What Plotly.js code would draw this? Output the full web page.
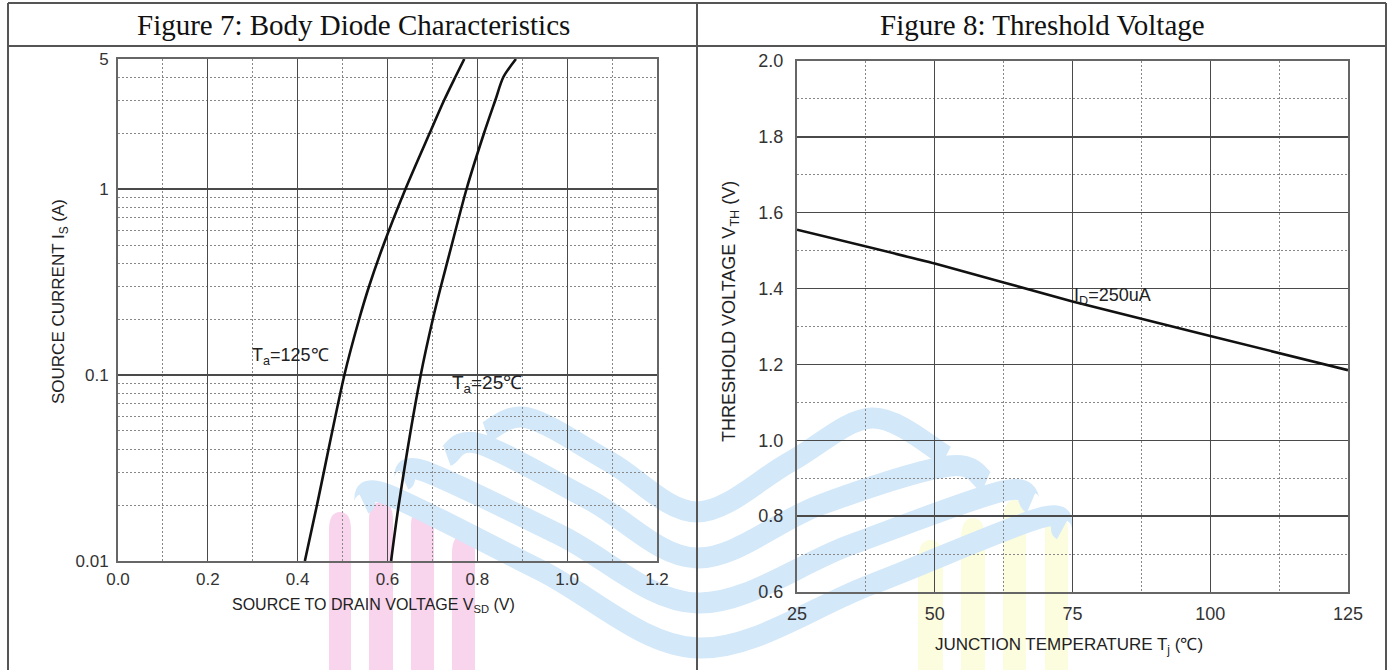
<!DOCTYPE html>
<html>
<head>
<meta charset="utf-8">
<script src="https://cdn.plot.ly/plotly-3.0.1.min.js"></script>
<style>html,body{margin:0;padding:0;background:#fff;}#chart{width:1391px;height:670px;}</style>
</head>
<body>
<div id="chart"></div>
<script>
// ---- Data ----
// Figure 7: Body diode characteristics
const vsd125 = [0.416, 0.443, 0.504, 0.537, 0.559, 0.591, 0.640, 0.694, 0.726, 0.751, 0.771];
const is125  = [0.01,  0.02,  0.1,   0.2,   0.3,   0.5,   1,     2,     3,     4,     5];
const vsd25  = [0.608, 0.625, 0.674, 0.701, 0.719, 0.743, 0.776, 0.815, 0.840, 0.858, 0.886];
const is25   = [0.01,  0.02,  0.1,   0.2,   0.3,   0.5,   1,     2,     3,     4,     5];
// Figure 8: Threshold voltage
const tj  = [25, 50, 75, 100, 125];
const vth = [1.555, 1.466, 1.366, 1.275, 1.185];

// Tick labels
const fig7XTicks = [0.0, 0.2, 0.4, 0.6, 0.8, 1.0, 1.2];
const fig7XTickText = ['0.0','0.2','0.4','0.6','0.8','1.0','1.2'];
const fig7YTicks = [0.01, 0.1, 1, 5];
const fig7YTickText = ['0.01','0.1','1','5'];
const fig7YMinor = [0.02,0.03,0.04,0.05,0.06,0.07,0.08,0.09,0.2,0.3,0.4,0.5,0.6,0.7,0.8,0.9,2,3,4];
const fig8XTicks = [25, 50, 75, 100, 125];
const fig8YTicks = [0.6, 0.8, 1.0, 1.2, 1.4, 1.6, 1.8, 2.0];
const fig8YTickText = ['0.6','0.8','1.0','1.2','1.4','1.6','1.8','2.0'];

// Texts
const title7 = 'Figure 7: Body Diode Characteristics';
const title8 = 'Figure 8: Threshold Voltage';

// ---- Layout helpers (pixel -> paper) ----
const W = 1391, H = 670;
const px = x => x / W;
const py = y => 1 - y / H;

// smooth SVG path (paper coords) through pixel points (decorative watermark only)
function smoothPath(pts) {
  const P = pts.map(p => [px(p[0]), py(p[1])]);
  let d = 'M' + P[0][0] + ',' + P[0][1];
  for (let i = 0; i < P.length - 1; i++) {
    const p0 = P[Math.max(0, i - 1)], p1 = P[i], p2 = P[i + 1], p3 = P[Math.min(P.length - 1, i + 2)];
    const c1 = [p1[0] + (p2[0] - p0[0]) / 6, p1[1] + (p2[1] - p0[1]) / 6];
    const c2 = [p2[0] - (p3[0] - p1[0]) / 6, p2[1] - (p3[1] - p1[1]) / 6];
    d += ' C' + c1[0] + ',' + c1[1] + ' ' + c2[0] + ',' + c2[1] + ' ' + p2[0] + ',' + p2[1];
  }
  return d;
}
function archRect(x0, x1, top, round) {
  const r = round;
  return 'M' + px(x0) + ',' + py(672) + ' L' + px(x0) + ',' + py(top + r) +
    ' Q' + px(x0) + ',' + py(top) + ' ' + px((x0 + x1) / 2) + ',' + py(top) +
    ' Q' + px(x1) + ',' + py(top) + ' ' + px(x1) + ',' + py(top + r) +
    ' L' + px(x1) + ',' + py(672) + ' Z';
}

const gridMajor = '#4a4a4a';
const gridMinor = '#888';
const sans = 'Liberation Sans, Arial, sans-serif';
const tickFont = {family: sans, size: 17, color: '#333'};
const tickFont2 = {family: sans, size: 18, color: '#333'};
const labFont = {family: sans, size: 16, color: '#222'};
const labFont2 = {family: sans, size: 17, color: '#222'};

const lineStyle = {color: '#111', width: 2.6, shape: 'spline', smoothing: 0.8};

const traces = [
  {x: vsd125, y: is125, xaxis: 'x', yaxis: 'y', mode: 'lines', line: lineStyle, hoverinfo: 'skip', showlegend: false},
  {x: vsd25,  y: is25,  xaxis: 'x', yaxis: 'y', mode: 'lines', line: lineStyle, hoverinfo: 'skip', showlegend: false},
  {x: tj, y: vth, xaxis: 'x2', yaxis: 'y2', mode: 'lines', line: {color: '#111', width: 2.6, shape: 'spline', smoothing: 0.5}, hoverinfo: 'skip', showlegend: false}
];

const border = '#555';
const blue = '#d3e8f9', pink = '#f9d4ed', yellow = '#fcfcdf';
const wm = [];
[[329, 351, 512], [369, 393, 502], [411, 434, 508], [452, 475, 535]].forEach(s =>
  wm.push({type: 'path', xref: 'paper', yref: 'paper', layer: 'below', path: archRect(s[0], s[1], s[2], 18), fillcolor: pink, line: {width: 0}}));
[[918, 943, 540], [961, 985, 518], [1003, 1026, 500], [1045, 1068, 510]].forEach(s =>
  wm.push({type: 'path', xref: 'paper', yref: 'paper', layer: 'below', path: archRect(s[0], s[1], s[2], 22), fillcolor: yellow, line: {width: 0}}));
const bands = [
  [[486, 432], [528, 418], [610, 462], [697, 512], [790, 462], [872, 418], [946, 456]],
  [[447, 456], [480, 444], [590, 500], [697, 558], [820, 505], [949, 466], [986, 482]],
  [[404, 480], [424, 471], [560, 535], [697, 603], [850, 545], [1003, 491], [1031, 503]],
  [[364, 504], [386, 494], [540, 570], [697, 648], [870, 585], [1040, 518], [1062, 530]]
];
bands.forEach(b => wm.push({type: 'path', xref: 'paper', yref: 'paper', layer: 'below', path: smoothPath(b), line: {color: blue, width: 21}}));

const layout = {
  width: W, height: H,
  margin: {l: 0, r: 0, t: 0, b: 0, pad: 0},
  paper_bgcolor: '#fff', plot_bgcolor: 'rgba(0,0,0,0)',
  showlegend: false,
  xaxis: {
    domain: [px(118), px(657)], anchor: 'y', range: [0, 1.2],
    tickmode: 'array', tickvals: fig7XTicks, ticktext: fig7XTickText,
    ticks: 'outside', ticklen: 2, tickcolor: 'rgba(0,0,0,0)',
    tickfont: tickFont,
    showgrid: true, gridcolor: gridMajor, gridwidth: 1.3,
    minor: {tickmode: 'array', tickvals: [0.1, 0.3, 0.5, 0.7, 0.9, 1.1], showgrid: true, gridcolor: gridMinor, gridwidth: 1, griddash: '2px,2px', ticks: ''},
    showline: true, mirror: true, linecolor: '#666', linewidth: 2, zeroline: false, fixedrange: true
  },
  yaxis: {
    domain: [py(561), py(59)], anchor: 'x', type: 'log', range: [-2, Math.log10(5)],
    tickmode: 'array', tickvals: fig7YTicks, ticktext: fig7YTickText,
    ticks: 'outside', ticklen: 4, tickcolor: 'rgba(0,0,0,0)',
    tickfont: tickFont,
    showgrid: true, gridcolor: gridMajor, gridwidth: 1.3,
    minor: {tickmode: 'array', tickvals: fig7YMinor, showgrid: true, gridcolor: gridMinor, gridwidth: 1, griddash: '2px,2px', ticks: ''},
    showline: true, mirror: true, linecolor: '#666', linewidth: 2, zeroline: false, fixedrange: true
  },
  xaxis2: {
    domain: [px(797), px(1348)], anchor: 'y2', range: [25, 125],
    tickmode: 'array', tickvals: fig8XTicks,
    ticks: 'outside', ticklen: 4, tickcolor: 'rgba(0,0,0,0)',
    tickfont: tickFont2,
    showgrid: true, gridcolor: gridMajor, gridwidth: 1.3,
    minor: {tickmode: 'array', tickvals: [37.5, 62.5, 87.5, 112.5], showgrid: true, gridcolor: gridMinor, gridwidth: 1, griddash: '2px,2px', ticks: ''},
    showline: true, mirror: true, linecolor: '#666', linewidth: 2, zeroline: false, fixedrange: true
  },
  yaxis2: {
    domain: [py(592), py(61)], anchor: 'x2', range: [0.6, 2.0],
    tickmode: 'array', tickvals: fig8YTicks, ticktext: fig8YTickText,
    ticks: 'outside', ticklen: 8, tickcolor: 'rgba(0,0,0,0)',
    tickfont: tickFont2,
    showgrid: true, gridcolor: gridMajor, gridwidth: 1.3,
    minor: {tickmode: 'array', tickvals: [0.7, 0.9, 1.1, 1.3, 1.5, 1.7, 1.9], showgrid: true, gridcolor: gridMinor, gridwidth: 1, griddash: '2px,2px', ticks: ''},
    showline: true, mirror: true, linecolor: '#666', linewidth: 2, zeroline: false, fixedrange: true
  },
  shapes: wm.concat([
    {type: 'line', xref: 'paper', yref: 'paper', x0: px(8), x1: px(1386), y0: py(3), y1: py(3), line: {color: border, width: 2}},
    {type: 'line', xref: 'paper', yref: 'paper', x0: px(8), x1: px(1386), y0: py(46), y1: py(46), line: {color: border, width: 2}},
    {type: 'line', xref: 'paper', yref: 'paper', x0: px(8), x1: px(8), y0: py(3), y1: py(672), line: {color: border, width: 2}},
    {type: 'line', xref: 'paper', yref: 'paper', x0: px(697), x1: px(697), y0: py(3), y1: py(672), line: {color: border, width: 2}},
    {type: 'line', xref: 'paper', yref: 'paper', x0: px(1386), x1: px(1386), y0: py(3), y1: py(672), line: {color: border, width: 2}}
  ]),
  annotations: [
    {text: title7, xref: 'paper', yref: 'paper', x: px(353), y: py(25), xanchor: 'center', yanchor: 'middle', showarrow: false,
     font: {family: 'Liberation Serif, Times New Roman, serif', size: 29, color: '#111'}},
    {text: title8, xref: 'paper', yref: 'paper', x: px(1042), y: py(25), xanchor: 'center', yanchor: 'middle', showarrow: false,
     font: {family: 'Liberation Serif, Times New Roman, serif', size: 29, color: '#111'}},
    {text: 'SOURCE TO DRAIN VOLTAGE V<sub>SD</sub> (V)', xref: 'paper', yref: 'paper', x: px(373), y: py(605), xanchor: 'center', yanchor: 'middle', showarrow: false, font: labFont},
    {text: 'SOURCE CURRENT I<sub>S</sub> (A)', xref: 'paper', yref: 'paper', x: px(60), y: py(302), xanchor: 'center', yanchor: 'middle', textangle: -90, showarrow: false, font: {family: sans, size: 17, color: '#222'}},
    {text: 'JUNCTION TEMPERATURE T<sub>j</sub> (℃)', xref: 'paper', yref: 'paper', x: px(1069), y: py(646), xanchor: 'center', yanchor: 'middle', showarrow: false, font: labFont2},
    {text: 'THRESHOLD VOLTAGE V<sub>TH</sub> (V)', xref: 'paper', yref: 'paper', x: px(731), y: py(312), xanchor: 'center', yanchor: 'middle', textangle: -90, showarrow: false, font: {family: sans, size: 18, color: '#222'}},
    {text: 'T<sub>a</sub>=125℃', xref: 'x', yref: 'y', x: 0.383, y: Math.log10(0.126), xanchor: 'center', yanchor: 'middle', showarrow: false, font: {family: sans, size: 18, color: '#222'}},
    {text: 'T<sub>a</sub>=25℃', xref: 'x', yref: 'y', x: 0.821, y: Math.log10(0.089), xanchor: 'center', yanchor: 'middle', showarrow: false, font: {family: sans, size: 19, color: '#222'}},
    {text: 'I<sub>D</sub>=250uA', xref: 'x2', yref: 'y2', x: 82.3, y: 1.38, xanchor: 'center', yanchor: 'middle', showarrow: false, font: {family: sans, size: 18, color: '#222'}}
  ]
};

Plotly.newPlot('chart', traces, layout, {staticPlot: true, displayModeBar: false});
</script>
</body>
</html>
